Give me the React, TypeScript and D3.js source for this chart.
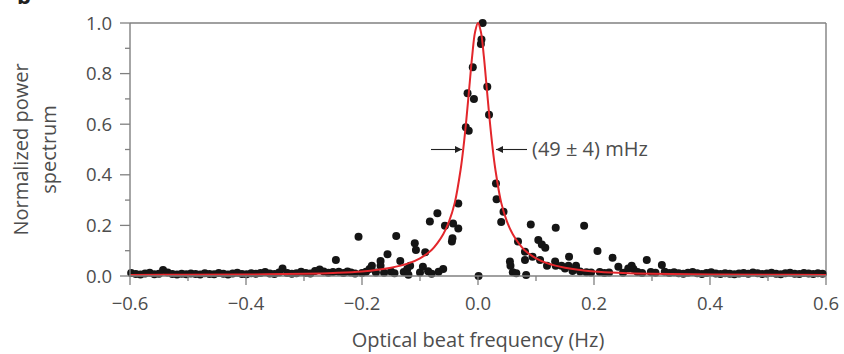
import React from "react";
import * as d3 from "d3";

const freq = [
  -0.598, -0.59, -0.582, -0.574, -0.566, -0.558, -0.55, -0.543, -0.535, -0.527,
  -0.519, -0.511, -0.503, -0.495, -0.487, -0.479, -0.471, -0.463, -0.455, -0.447,
  -0.439, -0.431, -0.423, -0.415, -0.407, -0.399, -0.391, -0.383, -0.375, -0.367,
  -0.359, -0.351, -0.343, -0.337, -0.329, -0.321, -0.313, -0.305, -0.297, -0.289,
  -0.281, -0.273, -0.266, -0.258, -0.25, -0.245, -0.24, -0.232, -0.225, -0.219,
  -0.212, -0.206, -0.2, -0.193, -0.187, -0.183, -0.176, -0.168, -0.168, -0.162,
  -0.156, -0.15, -0.144, -0.141, -0.134, -0.128, -0.122, -0.117, -0.12, -0.109,
  -0.107, -0.1, -0.095, -0.091, -0.086, -0.083, -0.08, -0.07, -0.068, -0.06,
  -0.057, -0.045, -0.044, -0.043, -0.034, -0.034, -0.021, -0.018, -0.016, -0.009,
  -0.007, 0.001, 0.005, 0.006, 0.008, 0.016, 0.019, 0.031, 0.032, 0.04,
  0.044, 0.055, 0.056, 0.06, 0.066, 0.069, 0.081, 0.081, 0.083, 0.091,
  0.094, 0.104, 0.107, 0.11, 0.116, 0.119, 0.133, 0.134, 0.134, 0.144,
  0.15, 0.156, 0.157, 0.163, 0.169, 0.169, 0.176, 0.183, 0.187, 0.195,
  0.206, 0.21, 0.218, 0.226, 0.232, 0.242, 0.25, 0.259, 0.265, 0.268,
  0.275, 0.283, 0.291, 0.298, 0.306, 0.317, 0.322, 0.33, 0.338, 0.346,
  0.354, 0.362, 0.37, 0.378, 0.386, 0.394, 0.402, 0.41, 0.418, 0.426,
  0.434, 0.442, 0.45, 0.458, 0.466, 0.474, 0.482, 0.49, 0.498, 0.506,
  0.514, 0.522, 0.53, 0.538, 0.546, 0.554, 0.562, 0.57, 0.578, 0.586, 0.594,
];

const power = [
  0.012, 0.008, 0.006, 0.01, 0.013, 0.007, 0.009, 0.024, 0.014, 0.008,
  0.006, 0.009, 0.007, 0.01, 0.008, 0.006, 0.011, 0.008, 0.007, 0.012,
  0.009, 0.006, 0.01, 0.013, 0.008, 0.007, 0.011, 0.009, 0.012, 0.016,
  0.01, 0.008, 0.014, 0.03, 0.012, 0.009, 0.011, 0.017, 0.012, 0.01,
  0.02, 0.026, 0.018, 0.013, 0.016, 0.063, 0.017, 0.012, 0.018, 0.014,
  0.01, 0.155, 0.012, 0.017, 0.028, 0.041, 0.014, 0.059, 0.041, 0.013,
  0.086, 0.018, 0.011, 0.158, 0.059, 0.016, 0.028, 0.041, 0.005, 0.129,
  0.103, 0.014, 0.037, 0.094, 0.019, 0.215, 0.009, 0.248, 0.017, 0.028,
  0.199, 0.136, 0.149, 0.208, 0.188, 0.287, 0.588, 0.722, 0.574, 0.825,
  0.7, 0.0, 0.917, 0.935, 1.0, 0.748, 0.637, 0.366, 0.303, 0.213,
  0.254, 0.057, 0.041, 0.015, 0.011, 0.136, 0.096, 0.063, 0.004, 0.204,
  0.076, 0.142, 0.063, 0.125, 0.112, 0.041, 0.057, 0.191, 0.041, 0.041,
  0.03, 0.041, 0.076, 0.02, 0.041, 0.03, 0.018, 0.199, 0.015, 0.014,
  0.099, 0.016, 0.012, 0.014, 0.072, 0.037, 0.013, 0.03, 0.041, 0.028,
  0.016, 0.012, 0.063, 0.016, 0.013, 0.043, 0.017, 0.012, 0.015, 0.011,
  0.009, 0.013, 0.016, 0.011, 0.008, 0.012, 0.015, 0.01, 0.008, 0.011,
  0.009, 0.007, 0.01, 0.012, 0.009, 0.014, 0.011, 0.008, 0.01, 0.013,
  0.009, 0.007, 0.011, 0.013, 0.009, 0.008, 0.012, 0.01, 0.008, 0.011, 0.009,
];

const fitX = [
  -0.6, -0.5, -0.4, -0.3, -0.25, -0.2, -0.15, -0.12, -0.1, -0.08, -0.07, -0.06,
  -0.05, -0.04, -0.03, -0.025, -0.02, -0.015, -0.01, -0.005, 0, 0.005, 0.01,
  0.015, 0.02, 0.025, 0.03, 0.04, 0.05, 0.06, 0.07, 0.08, 0.1, 0.12, 0.15,
  0.2, 0.25, 0.3, 0.4, 0.5, 0.6,
];
const fitY = [
  0.004, 0.005, 0.006, 0.009, 0.012, 0.018, 0.033, 0.05, 0.07, 0.103, 0.13, 0.165,
  0.215, 0.29, 0.42, 0.51, 0.62, 0.745, 0.87, 0.965, 1.0, 0.965, 0.87,
  0.745, 0.62, 0.51, 0.42, 0.29, 0.215, 0.165, 0.13, 0.103, 0.07, 0.05, 0.033,
  0.018, 0.012, 0.009, 0.006, 0.005, 0.004,
];

const xTicks = [-0.6, -0.4, -0.2, 0.0, 0.2, 0.4, 0.6];
const xMinorTicks = [-0.5, -0.3, -0.1, 0.1, 0.3, 0.5];
const yTicks = [0.0, 0.2, 0.4, 0.6, 0.8, 1.0];
const yMinorTicks = [0.1, 0.3, 0.5, 0.7, 0.9];

const xTitle = "Optical beat frequency (Hz)";
const yTitle = ["Normalized power", "spectrum"];
const annotation = "(49 ± 4) mHz";

export default function App() {
  const W = 844;
  const H = 354;
  const left = 130;
  const right = 826;
  const top = 23;
  const bottom = 276;

  const x = d3.scaleLinear().domain([-0.6, 0.6]).range([left, right]);
  const y = d3.scaleLinear().domain([0, 1]).range([bottom, top]);

  const fitPts: [number, number][] = fitX.map((v, i) => [v, fitY[i]]);
  const line = d3
    .line<[number, number]>()
    .x((d) => x(d[0]))
    .y((d) => y(d[1]))
    .curve(d3.curveCatmullRom.alpha(0.5));

  const axisColor = "#808080";
  const textColor = "#4d4d4d";
  const font = "'Open Sans', sans-serif";
  const fmt = (v: number) => (v < 0 ? "\u2212" : "") + Math.abs(v).toFixed(1);

  const halfY = y(0.5);

  return (
    <svg
      width={W}
      height={H}
      style={{ position: "absolute", left: 0, top: 0, background: "#fff" }}
      fontFamily={font}
    >
      <rect x={0} y={0} width={W} height={H} fill="#fff" />
      <text x={17} y={4} fontSize={22} fontWeight={700} fill="#222">
        b
      </text>

      {/* frame */}
      <line x1={left} x2={right} y1={top} y2={top} stroke={axisColor} strokeWidth={1.4} />
      <line x1={right} x2={right} y1={top} y2={bottom} stroke={axisColor} strokeWidth={1.4} />

      {/* data */}
      {freq.map((f, i) => (
        <circle key={i} cx={x(f)} cy={y(power[i])} r={4} fill="#151515" />
      ))}

      {/* fit */}
      <path d={line(fitPts) || ""} fill="none" stroke="#e3262b" strokeWidth={2} />

      {/* axes */}
      <line x1={left} x2={right} y1={bottom} y2={bottom} stroke={axisColor} strokeWidth={1.4} />
      <line x1={left} x2={left} y1={top} y2={bottom} stroke={axisColor} strokeWidth={1.4} />

      {xTicks.map((t) => (
        <g key={"xt" + t}>
          <line x1={x(t)} x2={x(t)} y1={bottom} y2={bottom + 9} stroke={axisColor} strokeWidth={1.3} />
          <text x={x(t)} y={310} fontSize={18.5} fill={textColor} textAnchor="middle">
            {fmt(t)}
          </text>
        </g>
      ))}
      {xMinorTicks.map((t) => (
        <line key={"xm" + t} x1={x(t)} x2={x(t)} y1={bottom} y2={bottom + 5} stroke={axisColor} strokeWidth={1.3} />
      ))}
      {yTicks.map((t) => (
        <g key={"yt" + t}>
          <line x1={left - 10} x2={left} y1={y(t)} y2={y(t)} stroke={axisColor} strokeWidth={1.3} />
          <text x={112} y={y(t) + 6.5} fontSize={18.5} fill={textColor} textAnchor="end">
            {t.toFixed(1)}
          </text>
        </g>
      ))}
      {yMinorTicks.map((t) => (
        <line key={"ym" + t} x1={left - 5} x2={left} y1={y(t)} y2={y(t)} stroke={axisColor} strokeWidth={1.3} />
      ))}

      {/* titles */}
      <text x={(left + right) / 2} y={347} fontSize={20} fill={textColor} textAnchor="middle">
        {xTitle}
      </text>
      <g transform={`translate(28, ${(top + bottom) / 2}) rotate(-90)`}>
        <text x={0} y={0} fontSize={20} fill={textColor} textAnchor="middle">
          {yTitle[0]}
        </text>
        <text x={0} y={28} fontSize={20} fill={textColor} textAnchor="middle">
          {yTitle[1]}
        </text>
      </g>

      {/* FWHM annotation */}
      <defs>
        <marker id="ah" viewBox="0 0 10 10" refX={10} refY={5} markerWidth={8} markerHeight={7} orient="auto-start-reverse" markerUnits="userSpaceOnUse">
          <path d="M0,0 L10,5 L0,10 z" fill="#222" />
        </marker>
      </defs>
      <line x1={431} x2={462} y1={halfY} y2={halfY} stroke="#222" strokeWidth={1.1} markerEnd="url(#ah)" />
      <line x1={527} x2={496} y1={halfY} y2={halfY} stroke="#222" strokeWidth={1.1} markerEnd="url(#ah)" />
      <text x={532} y={halfY + 6.5} fontSize={20} fill={textColor}>
        {annotation}
      </text>
    </svg>
  );
}
